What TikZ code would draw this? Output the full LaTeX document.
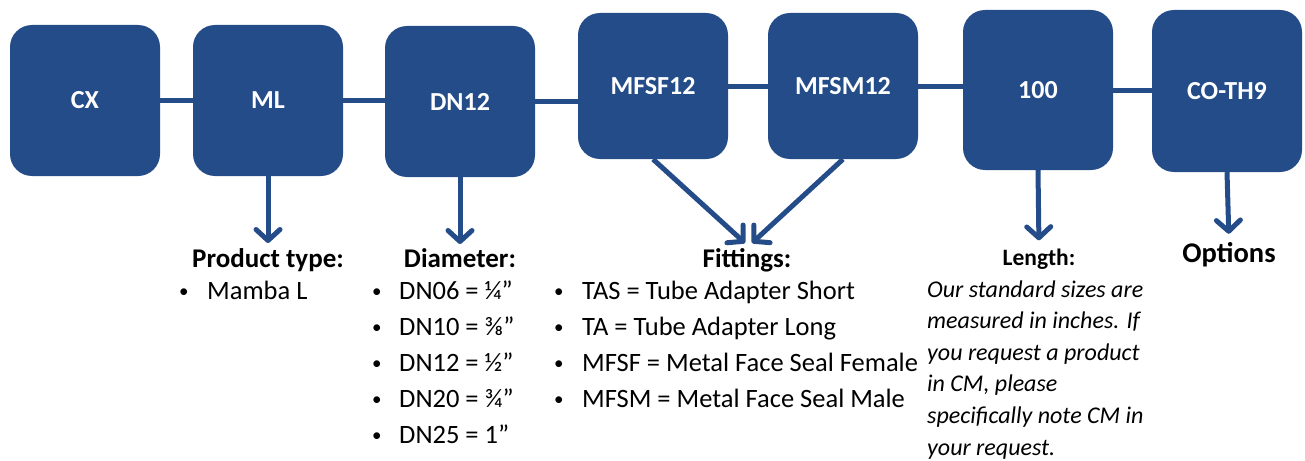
\documentclass[tikz,border=0pt]{standalone}
\usepackage{fontspec}
\setmainfont{Carlito}
\usetikzlibrary{arrows.meta}

\definecolor{codeblue}{RGB}{36,76,137}

\newcommand{\dotmark}{\makebox[0pt][l]{\raisebox{1.5pt}{\fontsize{19}{20}\selectfont •}}}

\tikzset{
	codebox/.style={fill=codeblue, rounded corners=22pt, minimum width=150pt, minimum height=150pt,
		inner sep=0pt, text=white, font=\bfseries\fontsize{26}{30}\selectfont},
	link/.style={draw=codeblue, line width=5pt},
	pointer/.style={link, -{Straight Barb[length=11pt,width=24pt,round]}},
	heading/.style={inner sep=0pt, anchor=base, font=\bfseries\fontsize{27}{30}\selectfont},
	item/.style={inner sep=0pt, anchor=base west, font=\fontsize{26.5}{30}\selectfont},
}

\begin{document}
\begin{tikzpicture}[x=1pt, y=-1pt]
	\useasboundingbox (0,0) rectangle (1305,460);

	% code boxes
	\begin{scope}
		\node[codebox, minimum height=151pt] (cx) at (85,100.5) {CX};
		\node[codebox, minimum height=151pt] (ml) at (268,100.5) {ML};
		\node[codebox, minimum height=151pt] (dn) at (460,101.5) {DN12};
		\node[codebox, minimum height=146pt] (mfsf) at (653,86) {MFSF12};
		\node[codebox, minimum height=146pt] (mfsm) at (843,86) {MFSM12};
		\node[codebox, minimum height=160pt] (len) at (1038,90) {100};
		\node[codebox, minimum height=162pt] (opt) at (1227,91) {CO-TH9};
	\end{scope}

	% links between the boxes
	\begin{scope}
		\draw[link] (cx.east) -- (ml.west);
		\draw[link] (ml.east) -- (ml.east -| dn.west);
		\draw[link] (dn.east) -- (dn.east -| mfsf.west);
		\draw[link] (mfsf.east) -- (mfsf.east -| mfsm.west);
		\draw[link] (mfsm.east) -- (mfsm.east -| len.west);
		\draw[link] (len.east) -- (len.east -| opt.west);
	\end{scope}

	% headings
	\node[heading] (typeHead) at (268,267) {Product type:};
	\node[heading] (diaHead) at (460,267) {Diameter:};
	\node[heading] (fitHead) at (747,267) {Fittings:};
	\node[heading, font=\bfseries\fontsize{23.5}{26}\selectfont] (lenHead) at (1039,265) {Length:};
	\node[heading, font=\bfseries\fontsize{28.5}{32}\selectfont] (optHead) at (1229,262) {Options};

	\coordinate (fitL) at (745,243);
	\coordinate (fitR) at (752,243);

	% arrows down to the headings
	\begin{scope}
		\draw[pointer] (ml.south) -- (ml.south |- 0,243);
		\draw[pointer] (dn.south) -- (dn.south |- 0,244);
		\draw[pointer] (mfsf.south) -- (fitL);
		\draw[pointer] (mfsm.south) -- (fitR);
		\draw[pointer] (len.south) -- (lenHead.north) [shorten >=8pt];
		\draw[pointer] (opt.south) -- (optHead.north) [shorten >=8pt];
	\end{scope}

	% lists
	\begin{scope}
		\node[item] (type0) at (179,299) {\dotmark\hspace*{28pt}Mamba L};

		\foreach \txt [count=\i from 0] in {{DN06 = ¼”}, {DN10 = ⅜”}, {DN12 = ½”}, {DN20 = ¾”}, {DN25 = 1”}}
		{
			\node[item] (dia\i) at (372,299+36*\i) {\dotmark\hspace*{27pt}\txt};
		}

		\foreach \txt [count=\i from 0] in {{TAS = Tube Adapter Short}, {TA = Tube Adapter Long},
			{MFSF = Metal Face Seal Female}, {MFSM = Metal Face Seal Male}}
		{
			\node[item] (fit\i) at (554,299+36*\i) {\dotmark\hspace*{28pt}\txt};
		}

		\foreach \txt [count=\i from 0] in {{Our standard sizes are}, {measured in inches. If},
			{you request a product}, {in CM, please}, {specifically note CM in}, {your request.}}
		{
			\node[item, font=\itshape\fontsize{24}{28}\selectfont] (len\i) at (927,297+31.6*\i) {\txt};
		}
	\end{scope}
\end{tikzpicture}
\end{document}
